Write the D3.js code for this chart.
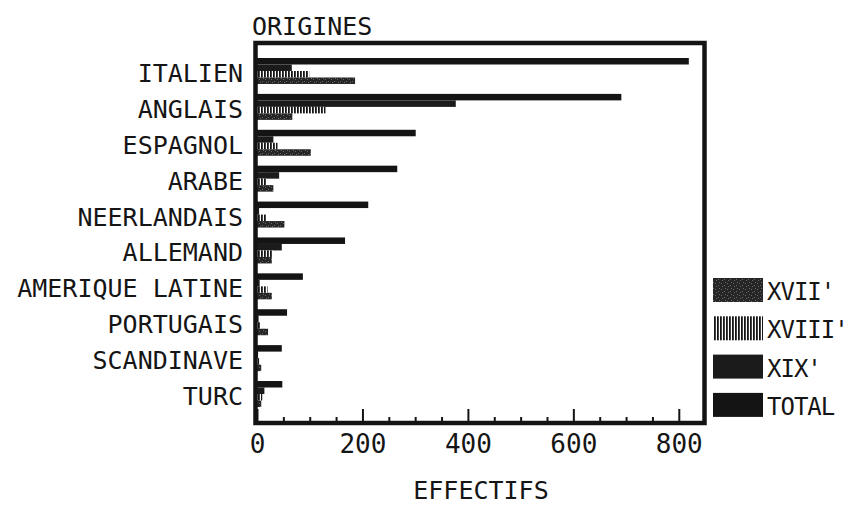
<!DOCTYPE html>
<html><head><meta charset="utf-8">
<script src="https://cdn.jsdelivr.net/npm/d3@7"></script>
<style>
html,body{margin:0;padding:0;background:#fff;}
svg{display:block;}
text{font-family:"DejaVu Sans Mono",monospace;fill:#151515;}
</style></head>
<body>
<script>
const categories = ["ITALIEN","ANGLAIS","ESPAGNOL","ARABE","NEERLANDAIS","ALLEMAND","AMERIQUE LATINE","PORTUGAIS","SCANDINAVE","TURC"];
const xvii  = [186, 67, 102, 31, 52, 28, 28, 21, 8, 8];
const xviii = [99, 130, 39, 18, 17, 30, 20, 6, 4, 10];
const xix   = [66, 377, 31, 42, 4, 47, 5, 3, 2, 14];
const total = [819, 691, 301, 266, 211, 167, 87, 57, 47, 48];
const seriesKeys = ["XVII", "XVIII", "XIX", "TOTAL"];
const seriesLabels = ["XVII'", "XVIII'", "XIX'", "TOTAL"];
const majorTicks = [0, 200, 400, 600, 800];
const minorTicks = [50,100,150,250,300,350,450,500,550,650,700,750];
const title = "ORIGINES";
const xTitle = "EFFECTIFS";

const W = 851, H = 506;
const svg = d3.select("body").append("svg").attr("width", W).attr("height", H);
const defs = svg.append("defs");

const ps = defs.append("pattern").attr("id","stripes").attr("patternUnits","userSpaceOnUse")
  .attr("width",3).attr("height",10);
ps.append("rect").attr("width",3).attr("height",10).attr("fill","#fff");
ps.append("rect").attr("width",1.8).attr("height",10).attr("fill","#151515");
const pg = defs.append("pattern").attr("id","grain").attr("patternUnits","userSpaceOnUse")
  .attr("width",6).attr("height",6);
pg.append("rect").attr("width",6).attr("height",6).attr("fill","#262626");
[[1,1],[4,3],[2,4],[5,0]].forEach(([a,b])=>pg.append("rect").attr("x",a).attr("y",b).attr("width",1).attr("height",1).attr("fill","#6a6a6a"));

const fills = {XVII:"url(#grain)", XVIII:"url(#stripes)", XIX:"#1b1b1b", TOTAL:"#141414"};

const x = d3.scaleLinear().domain([0, 844]).range([257, 702]);
const y = d3.scaleBand().domain(categories).range([58, 407]).paddingInner(0.276).paddingOuter(0).align(0);
const barOrder = ["TOTAL","XIX","XVIII","XVII"];
const yi = d3.scaleBand().domain(barOrder).range([0, y.bandwidth()]).padding(0);

const dataBy = {XVII:xvii, XVIII:xviii, XIX:xix, TOTAL:total};
const rows = [];
categories.forEach((c,i)=>barOrder.forEach(k=>rows.push({c, k, v:dataBy[k][i]})));

svg.append("g").selectAll("rect").data(rows).join("rect")
  .attr("x", x(0))
  .attr("y", d => y(d.c) + yi(d.k))
  .attr("width", d => x(d.v) - x(0))
  .attr("height", yi.bandwidth())
  .attr("fill", d => fills[d.k]);

svg.append("rect").attr("x",255.5).attr("y",43).attr("width",449).attr("height",380)
  .attr("fill","none").attr("stroke","#141414").attr("stroke-width",4.5);

const axMajor = d3.axisBottom(x).tickValues(majorTicks).tickSizeInner(-14).tickSizeOuter(0).tickPadding(12).tickFormat(d3.format("d"));
const gA = svg.append("g").attr("transform","translate(0,423)").call(axMajor);
gA.select(".domain").remove();
gA.selectAll("line").attr("stroke","#141414").attr("stroke-width",2);
gA.selectAll("text").style("font-family","'DejaVu Sans Mono',monospace").style("font-size","26px").attr("fill","#151515");
const axMinor = d3.axisBottom(x).tickValues(minorTicks).tickSizeInner(-6).tickSizeOuter(0).tickFormat("");
const gM = svg.append("g").attr("transform","translate(0,423)").call(axMinor);
gM.select(".domain").remove();
gM.selectAll("line").attr("stroke","#141414").attr("stroke-width",2);

svg.append("g").selectAll("text").data(categories).join("text")
  .attr("x", 243).attr("y", d => y(d) + y.bandwidth()/2 + 11)
  .attr("text-anchor","end").style("font-size","25px").text(d=>d);

svg.append("text").attr("x",252).attr("y",35).style("font-size","25px").text(title);
svg.append("text").attr("x",481).attr("y",499).attr("text-anchor","middle").style("font-size","25px").text(xTitle);

const lg = svg.append("g");
seriesKeys.forEach((k,i)=>{
  const yy = 278 + i*38.3;
  lg.append("rect").attr("x",713).attr("y",yy).attr("width",50).attr("height",24).attr("fill",fills[k]);
  lg.append("text").attr("x",767).attr("y",yy+22).style("font-size","24px").style("letter-spacing","-1px").text(seriesLabels[i]);
});
</script>
</body></html>
